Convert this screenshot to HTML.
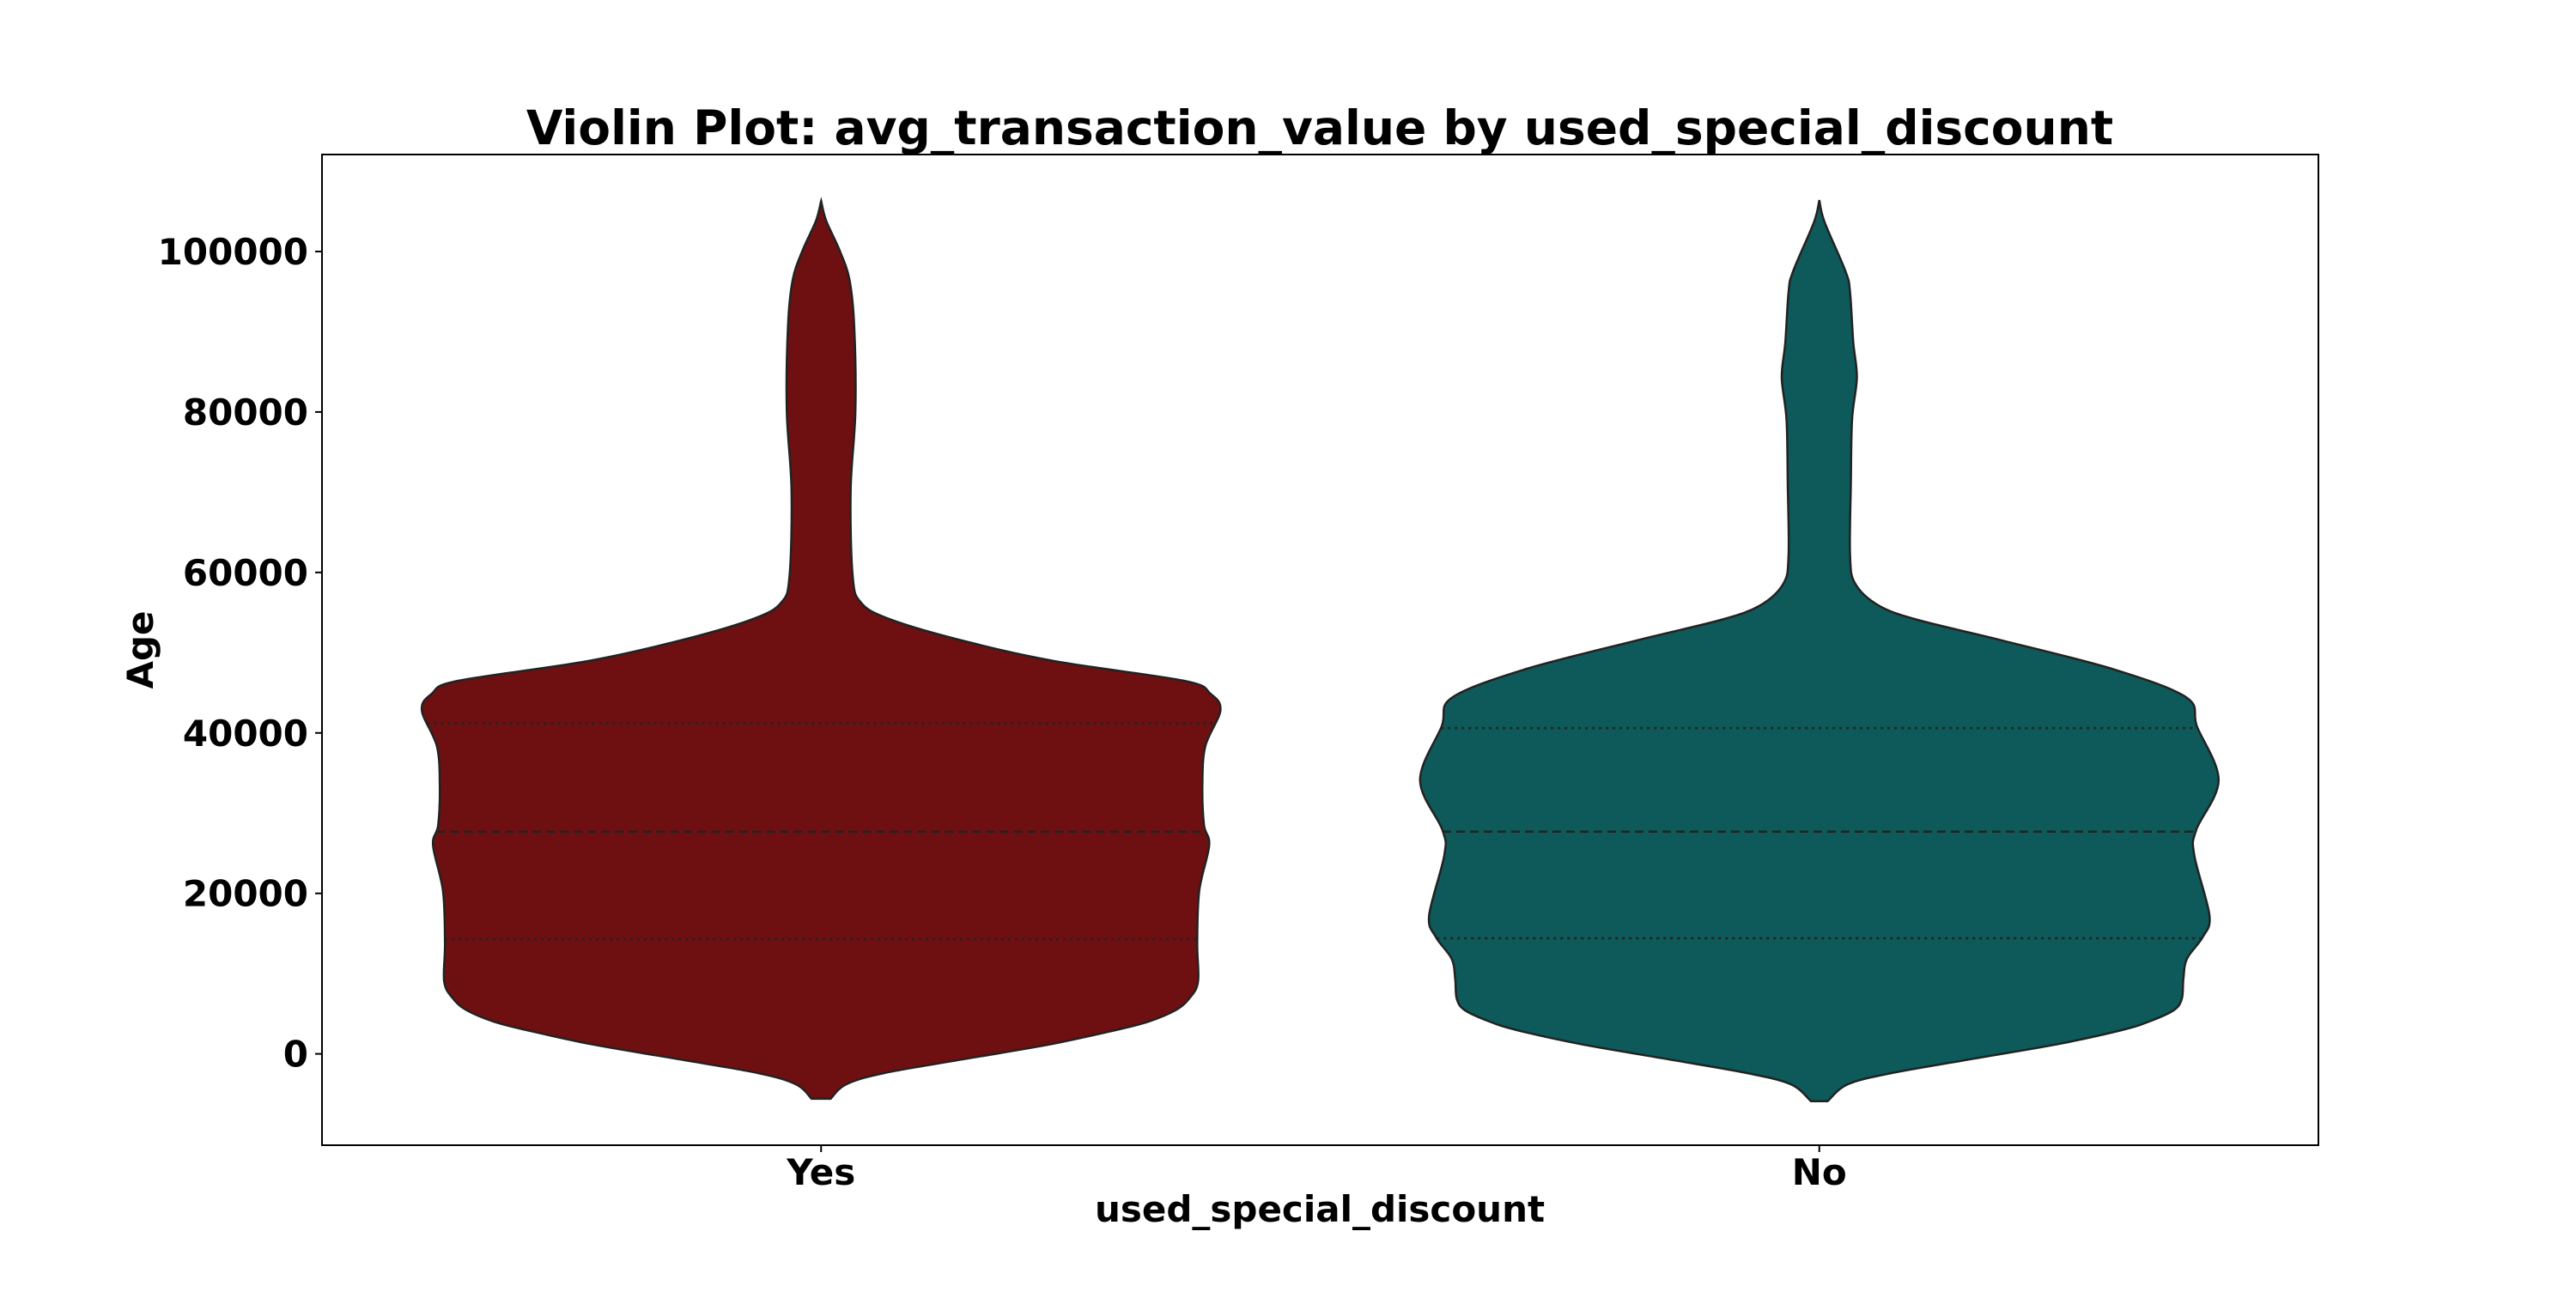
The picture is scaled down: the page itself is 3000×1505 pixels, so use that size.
<!DOCTYPE html>
<html><head><meta charset="utf-8"><style>
html,body{margin:0;padding:0;background:#fff;}
svg text{font-family:"DejaVu Sans","Liberation Sans",sans-serif;font-weight:bold;fill:#000;}
</style></head><body>
<svg id="chart" width="3000" height="1500" viewBox="0 0 3000 1500" xmlns="http://www.w3.org/2000/svg">
<text x="1537" y="168" font-size="55" text-anchor="middle">Violin Plot: avg_transaction_value by used_special_discount</text>
<g id="plot"></g>
<rect x="375" y="180" width="2325" height="1154" fill="none" stroke="#000" stroke-width="2"/>
<text transform="translate(178,757) rotate(-90)" font-size="42" text-anchor="middle">Age</text>
<text x="1537" y="1423" font-size="42" text-anchor="middle">used_special_discount</text>
</svg>
<script>
const categories = ["Yes", "No"];
const yTicks = [0, 20000, 40000, 60000, 80000, 100000];
const yesValues = [106300,103800,100200,96500,90700,80100,70300,59600,56300,54300,51800,49000,46500,44900,42800,38300,33400,28500,26000,20300,13800,9000,6900,5450,4000,2950,1170,-600,-2400,-3800,-5600];
const yesDensity = [0,0.013,0.046,0.071,0.083,0.086,0.074,0.079,0.099,0.165,0.331,0.579,0.909,0.975,1.0,0.962,0.955,0.959,0.972,0.947,0.942,0.944,0.922,0.888,0.819,0.737,0.572,0.365,0.158,0.063,0.024];
const noValues = [106400,103700,97500,94900,88700,84300,79000,71000,62100,58600,55900,54100,51500,47900,44400,40800,34100,27900,24800,17300,14600,11870,9370,6880,5450,4020,2950,1170,-600,-2400,-3800,-5900];
const noDensity = [0,0.013,0.066,0.077,0.085,0.094,0.082,0.079,0.077,0.090,0.148,0.246,0.460,0.739,0.920,0.946,1.0,0.944,0.939,0.977,0.961,0.921,0.912,0.908,0.888,0.826,0.757,0.593,0.387,0.181,0.071,0.021];
const yesQuartiles = [14300, 27700, 41200];
const noQuartiles = [14400, 27700, 40600];

const NS = "http://www.w3.org/2000/svg";
const svg = document.getElementById('chart');
const plot = document.getElementById('plot');
const L = 375, R = 2700, T = 180, B = 1334;
const yScale = v => 1227.6 - v * (1227.6 - 293) / 100000;
const xScale = i => L + (R - L) * (i + 0.5) / categories.length;
const maxHalf = 465;
const fills = ["#6e1011", "#0e5959"];
const series = [[yesValues, yesDensity, yesQuartiles], [noValues, noDensity, noQuartiles]];

function interp(vals, dens, v) {
  for (let k = 0; k < vals.length - 1; k++) {
    if (v <= vals[k] && v >= vals[k + 1]) {
      const t = (vals[k] - v) / (vals[k] - vals[k + 1]);
      return dens[k] + t * (dens[k + 1] - dens[k]);
    }
  }
  return 0;
}
function smoothPath(pts) {
  let d = "M" + pts[0][0].toFixed(1) + "," + pts[0][1].toFixed(1);
  for (let i = 0; i < pts.length - 1; i++) {
    const p0 = pts[Math.max(0, i - 1)], p1 = pts[i], p2 = pts[i + 1], p3 = pts[Math.min(pts.length - 1, i + 2)];
    const c1 = [p1[0] + (p2[0] - p0[0]) / 6, p1[1] + (p2[1] - p0[1]) / 6];
    const c2 = [p2[0] - (p3[0] - p1[0]) / 6, p2[1] - (p3[1] - p1[1]) / 6];
    d += " C" + c1[0].toFixed(1) + "," + c1[1].toFixed(1) + " " + c2[0].toFixed(1) + "," + c2[1].toFixed(1) + " " + p2[0].toFixed(1) + "," + p2[1].toFixed(1);
  }
  return d;
}

series.forEach((s, i) => {
  const [vals, dens, qs] = s;
  const cx = xScale(i);
  const right = vals.map((v, k) => [cx + dens[k] * maxHalf, yScale(v)]);
  const left = vals.map((v, k) => [cx - dens[k] * maxHalf, yScale(v)]).reverse();
  const d = smoothPath(right) + " L" + left[0][0].toFixed(1) + "," + left[0][1].toFixed(1) + " " + smoothPath(left).slice(1).replace(/^[^C]*/, "") + " Z";
  const path = document.createElementNS(NS, "path");
  
  
  path.setAttribute("d", d);
  path.setAttribute("fill", fills[i]);
  path.setAttribute("stroke", "#222");
  path.setAttribute("stroke-width", "2.5");
  plot.appendChild(path);
  qs.forEach((q, j) => {
    const hw = interp(vals, dens, q) * maxHalf;
    const ln = document.createElementNS(NS, "line");
    
    
    ln.setAttribute("x1", cx - hw); ln.setAttribute("x2", cx + hw);
    ln.setAttribute("y1", yScale(q)); ln.setAttribute("y2", yScale(q));
    ln.setAttribute("stroke", "#222");
    ln.setAttribute("stroke-width", "2.5");
    ln.setAttribute("stroke-dasharray", j === 1 ? "10,6" : "3,5");
    plot.appendChild(ln);
  });
  const tk = document.createElementNS(NS, "line");
  
  
  tk.setAttribute("x1", cx); tk.setAttribute("x2", cx); tk.setAttribute("y1", B); tk.setAttribute("y2", B + 8);
  tk.setAttribute("stroke", "#000"); tk.setAttribute("stroke-width", "2");
  svg.appendChild(tk);
  const tl = document.createElementNS(NS, "text");
  
  
  tl.setAttribute("x", cx); tl.setAttribute("y", B + 46);
  tl.setAttribute("font-size", "42"); tl.setAttribute("text-anchor", "middle");
  tl.textContent = categories[i];
  svg.appendChild(tl);
});

yTicks.forEach(v => {
  const y = yScale(v);
  const tk = document.createElementNS(NS, "line");
  
  
  tk.setAttribute("x1", L - 8); tk.setAttribute("x2", L); tk.setAttribute("y1", y); tk.setAttribute("y2", y);
  tk.setAttribute("stroke", "#000"); tk.setAttribute("stroke-width", "2");
  svg.appendChild(tk);
  const tl = document.createElementNS(NS, "text");
  
  
  tl.setAttribute("x", L - 16); tl.setAttribute("y", y + 15);
  tl.setAttribute("font-size", "42"); tl.setAttribute("text-anchor", "end");
  tl.textContent = String(v);
  svg.appendChild(tl);
});
</script>
</body></html>
